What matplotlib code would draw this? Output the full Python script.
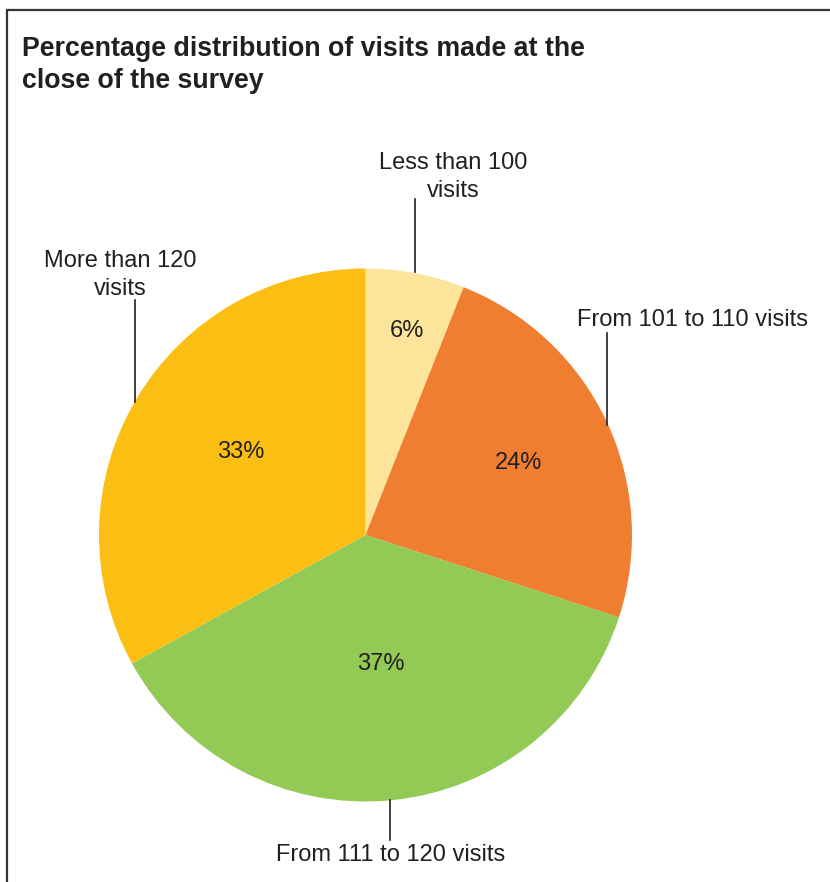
import matplotlib
matplotlib.use("Agg")
import matplotlib.pyplot as plt
from matplotlib.patches import Rectangle

plt.rcParams['font.family'] = ['Liberation Sans', 'DejaVu Sans']

title = "Percentage distribution of visits made at the\nclose of the survey"
categories = ["Less than 100\nvisits", "From 101 to 110 visits",
              "From 111 to 120 visits", "More than 120\nvisits"]
values = [6, 24, 37, 33]
colors = ["#FCE59A", "#EF7E31", "#92CA55", "#FBBF14"]

W, H = 830, 882
fig = plt.figure(figsize=(W / 100, H / 100), dpi=100)
ax = fig.add_axes([0, 0, 1, 1])

def Y(y):
    return H - y

cx, cy, r = 365.5, 535, 266.5
wedges, _ = ax.pie(values, colors=colors, startangle=90, counterclock=False,
                   center=(cx, Y(cy)), radius=r, frame=True,
                   wedgeprops=dict(linewidth=0))
ax.set_xlim(0, W)
ax.set_ylim(0, H)
ax.set_aspect('equal')
ax.axis('off')

tc = "#231F20"
fs = 17

# percent labels
pct_pos = [(407, 331), (519, 463), (381, 664), (241, 452)]
for v, (x, y) in zip(values, pct_pos):
    ax.text(x, Y(y), f"{v}%", ha='center', va='center', fontsize=fs, color=tc)

# category labels and leader lines
lab_pos = [(453, 177), (692, 320), (391, 855), (120, 275)]
lines = [((415, 199), (415, 272)), ((607, 333), (607, 425)),
         ((390, 800), (390, 840)), ((135, 300), (135, 402))]
for cat, (x, y), ((x1, y1), (x2, y2)) in zip(categories, lab_pos, lines):
    ax.text(x, Y(y), cat, ha='center', va='center', fontsize=fs, color=tc,
            linespacing=1.3)
    ax.plot([x1, x2], [Y(y1), Y(y2)], color=tc, lw=1.2)

ax.text(22, Y(65), title, ha='left', va='center', fontsize=19.3,
        fontweight='bold', color=tc, linespacing=1.3)

# frame
ax.add_patch(Rectangle((6.5, Y(10) - 1000), 1000, 1000, fill=False,
                       edgecolor='#333333', lw=1.6, clip_on=True))

fig.savefig("out.png", dpi=100)
